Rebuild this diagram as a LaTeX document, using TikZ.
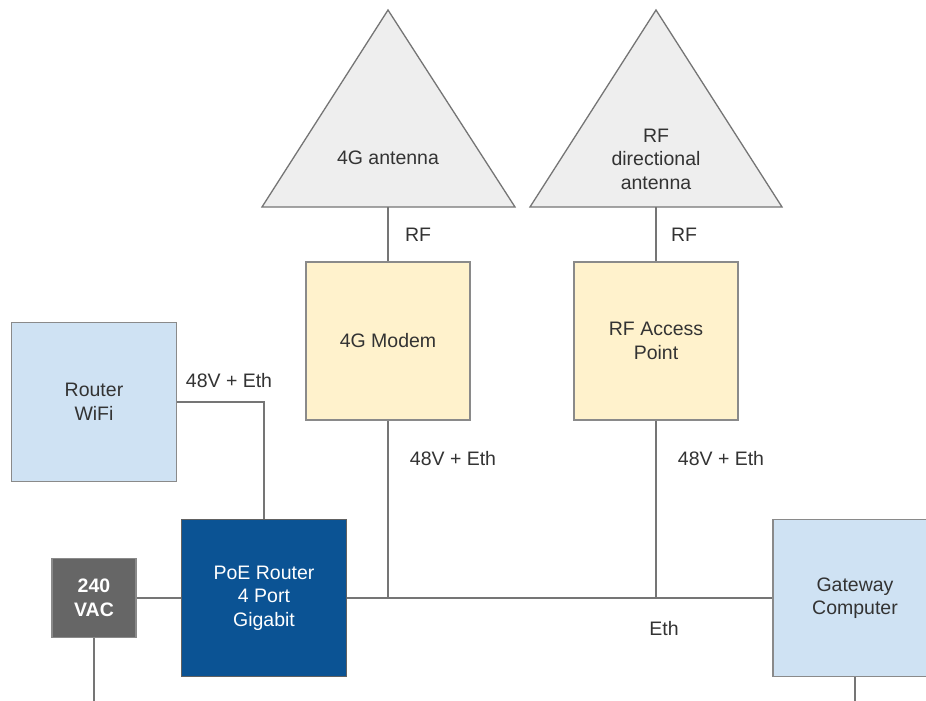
\documentclass[tikz,border=0pt]{standalone}
\usepackage{fontspec}
\setmainfont{Liberation Sans}
\definecolor{linegray}{HTML}{757575}
\definecolor{edgegray}{HTML}{8A8A8A}
\definecolor{txtgray}{HTML}{333333}
\definecolor{antfill}{HTML}{EEEEEE}
\definecolor{modfill}{HTML}{FFF2CC}
\definecolor{lbfill}{HTML}{CFE2F3}
\definecolor{pofill}{HTML}{0B5394}
\definecolor{vacfill}{HTML}{666666}
\tikzset{
  base/.style={font=\fontsize{19.5}{23.5}\selectfont, text=txtgray, align=center},
  unitbox/.style={base, draw=edgegray, line width=1.3pt, rectangle,
    minimum width=164pt, minimum height=157pt, inner sep=0pt},
  ylbox/.style={unitbox, fill=modfill},
  blbox/.style={unitbox, fill=lbfill},
  poebox/.style={unitbox, fill=pofill, text=white, draw=edgegray!70!black},
  vacbox/.style={base, draw=edgegray, line width=1.3pt, fill=vacfill, text=white,
    font=\fontsize{19.5}{23.5}\selectfont\bfseries, minimum width=84pt, minimum height=79pt, inner sep=0pt},
  antshape/.style={draw=linegray, line width=1.3pt, fill=antfill, line join=miter},
  wire/.style={draw=linegray, line width=1.3pt},
  lbl/.style={base}
}
\begin{document}
\begin{tikzpicture}[x=1pt,y=-1pt]
  \useasboundingbox (0,0) rectangle (926,701);
  \clip (0,0) rectangle (926,701);
  \fill[white] (0,0) rectangle (926,701);

  % antennas
  \draw[antshape] (388,10) -- (515,207) -- (262,207) -- cycle;
  \node[base] (ant4g) at (388,158) {4G antenna};
  \coordinate (ant4gbase) at (388,207);

  \draw[antshape] (656,10) -- (782,207) -- (530,207) -- cycle;
  \node[base] (antrf) at (656,159) {RF\\directional\\antenna};
  \coordinate (antrfbase) at (656,207);

  % equipment
  \node[ylbox, minimum height=158pt] (modem) at (388,341) {4G Modem};
  \node[ylbox, minimum height=158pt] (ap) at (656,341) {RF Access\\Point};
  \node[blbox, minimum width=165pt, minimum height=159pt] (wifi) at (94,402) {Router\\WiFi};
  \node[poebox, minimum width=165pt] (poe) at (264,598) {PoE Router\\4 Port\\Gigabit};
  \node[vacbox] (vac) at (94,598) {240\\VAC};
  \node[blbox] (gw) at (855,598) {Gateway\\Computer};

  \coordinate (vacout) at (94,702);
  \coordinate (gwout) at (855,702);
  \coordinate (jmodem) at (388,598);
  \coordinate (jap) at (656,598);

  % connections
  \draw[wire] (ant4gbase) -- (modem.north);
  \draw[wire] (antrfbase) -- (ap.north);
  \draw[wire] (wifi.east) -| (poe.north);
  \draw[wire] (vac.east) -- (poe.west);
  \draw[wire] (vac.south) -- (vacout);
  \draw[wire] (poe.east) -- (gw.west);
  \draw[wire] (modem.south) -- (jmodem);
  \draw[wire] (ap.south) -- (jap);
  \draw[wire] (gw.south) -- (gwout);

  % labels
  \node[lbl] (rf1) at (418,235) {RF};
  \node[lbl] (rf2) at (684,235) {RF};
  \node[lbl] (pw0) at (229,381) {48V + Eth};
  \node[lbl] (pw1) at (453,459) {48V + Eth};
  \node[lbl] (pw2) at (721,459) {48V + Eth};
  \node[lbl] (eth) at (664,629) {Eth};
\end{tikzpicture}
\end{document}
